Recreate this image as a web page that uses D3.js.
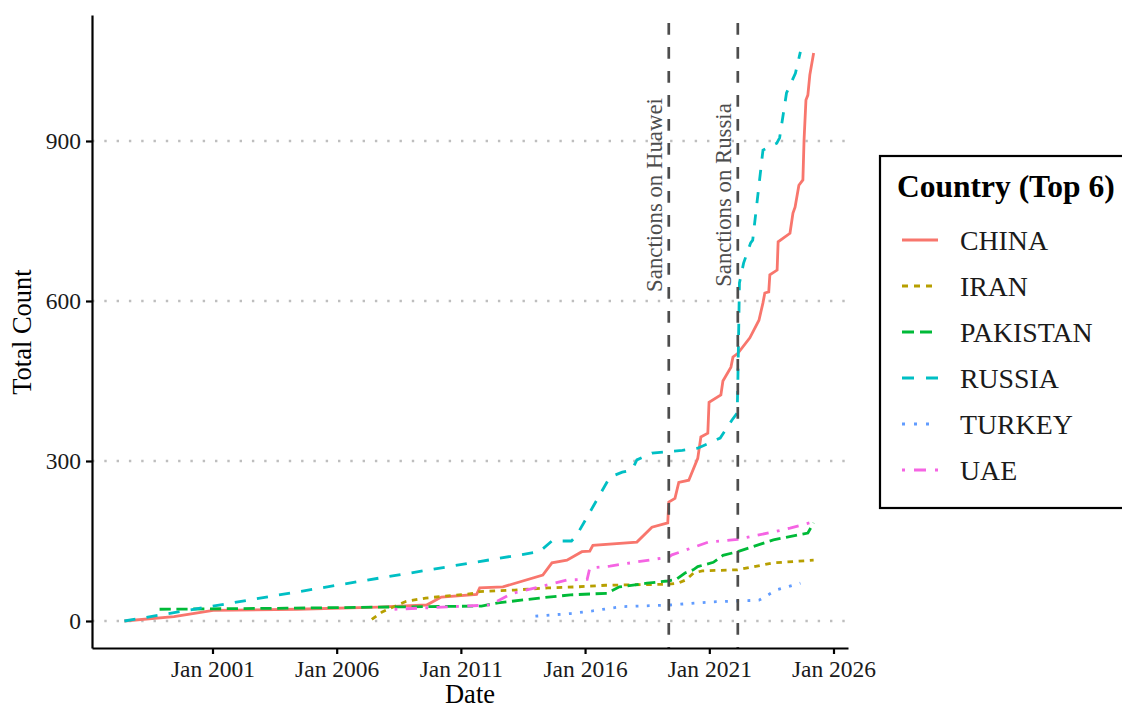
<!DOCTYPE html>
<html>
<head>
<meta charset="utf-8">
<script src="https://cdn.jsdelivr.net/npm/d3@7"></script>
<style>
  body { margin: 0; background: #fff; }
  text { font-family: "Liberation Serif", "Times New Roman", serif; }
</style>
</head>
<body>
<div id="chart"></div>
<script>
// Données
const countries = ["CHINA", "IRAN", "PAKISTAN", "RUSSIA", "TURKEY", "UAE"];
const countryColors = ["#F8766D", "#B79F00", "#00BA38", "#00BFC4", "#619CFF", "#F564E3"];
const countryDashes = ["", "2 2", "4 2", "4 4", "1 3", "1 3 4 3"];

const chinaDates = ["1997-06-15","1999-06-15","2001-01-10","2004-06-01","2007-09-01","2009-08-15","2010-03-20","2011-08-20","2011-10-05","2012-09-10","2014-04-20","2014-09-01","2015-04-10","2015-11-15","2016-03-10","2016-04-25","2018-02-01","2018-09-10","2019-05-01","2019-05-16","2019-08-15","2019-10-10","2020-03-05","2020-07-15","2020-08-30","2020-12-10","2020-12-28","2021-06-20","2021-07-20","2021-11-15","2021-12-15","2022-02-25","2022-08-20","2023-01-01","2023-02-28","2023-03-28","2023-05-25","2023-06-10","2023-09-25","2023-10-10","2024-04-01","2024-05-15","2024-06-15","2024-08-10","2024-10-08","2024-10-25","2024-11-22","2024-12-20","2025-01-18","2025-03-15"];
const chinaCounts = [0,8,20,22,26,30,45,50,62,64,86,109,114,130,131,142,148,176,184,223,230,260,264,305,345,352,410,424,450,476,495,502,531,564,596,615,617,649,658,711,727,765,776,817,827,902,977,986,1024,1065];

const iranDates = ["2007-06-01","2007-11-01","2008-10-20","2009-08-01","2011-08-01","2011-10-01","2013-03-01","2014-07-01","2015-09-01","2016-11-01","2019-05-01","2019-10-01","2020-01-20","2020-05-15","2020-09-20","2022-02-20","2023-08-01","2025-03-15"];
const iranCounts = [3,17,37,43,52,55,58,62,64,67,69,71,77,90,94,96,109,114];

const pakistanDates = ["1998-11-15","2004-01-01","2007-09-01","2011-11-01","2012-07-01","2014-03-01","2015-06-01","2016-11-20","2017-05-20","2018-07-01","2019-05-01","2019-09-01","2020-01-10","2020-05-10","2020-07-15","2021-03-01","2021-07-20","2022-02-20","2023-08-01","2024-12-20","2025-03-15"];
const pakistanCounts = [22,24,26,28,34,43,49,52,64,71,75,78,90,96,102,110,123,130,152,165,184];

const russiaDates = ["1997-06-15","2007-12-01","2014-03-01","2014-09-01","2015-06-15","2015-09-01","2017-01-01","2017-07-01","2017-11-20","2018-02-01","2018-09-10","2019-12-01","2020-07-15","2021-06-10","2021-12-01","2022-02-15","2022-02-25","2022-03-20","2022-05-20","2022-09-01","2022-10-01","2023-03-01","2023-09-20","2023-11-01","2024-02-10","2024-06-20","2024-09-01"];
const russiaCounts = [0,82,130,150,150,161,270,279,283,302,315,320,324,343,377,390,452,634,671,709,714,883,896,906,990,1027,1067];

const turkeyDates = ["2014-01-01","2015-06-01","2016-04-20","2017-01-10","2017-07-01","2019-06-01","2021-03-01","2023-01-01","2023-05-01","2023-10-01","2024-09-01"];
const turkeyCounts = [9,14,19,24,27,30,36,39,48,59,71];

const uaeDates = ["2008-05-01","2012-03-01","2013-02-01","2014-03-01","2015-04-10","2016-02-01","2016-03-10","2017-01-01","2019-05-20","2019-07-01","2020-12-20","2022-02-20","2023-08-01","2024-04-01","2025-03-15"];
const uaeCounts = [22,30,52,64,77,78,99,103,120,124,148,153,167,174,186];

const sanctionDates = ["2019-05-16", "2022-02-24"];
const sanctionLabels = ["Sanctions on Huawei", "Sanctions on Russia"];

const xTickDates = ["2001-01-01","2006-01-01","2011-01-01","2016-01-01","2021-01-01","2026-01-01"];
const yTicks = [0, 300, 600, 900];

// Configuration
const width = 1122, height = 708;
const panel = { left: 92, right: 848, top: 15, bottom: 648 };
const lw = 2.8;

const parse = d3.timeParse("%Y-%m-%d");

const svg = d3.select("#chart").append("svg")
    .attr("width", width)
    .attr("height", height);

// Échelles calées sur les repères du graphique
const x = d3.scaleTime()
    .domain([parse("2001-01-01"), parse("2026-01-01")])
    .range([212.5, 833.5]);
x.domain([x.invert(panel.left), x.invert(panel.right)]).range([panel.left, panel.right]);

const y = d3.scaleLinear().domain([0, 900]).range([621, 141]);
y.domain([y.invert(panel.bottom), y.invert(panel.top)]).range([panel.bottom, panel.top]);

// Grille horizontale pointillée
svg.append("g").selectAll("line")
    .data(yTicks)
    .enter().append("line")
    .attr("x1", panel.left).attr("x2", panel.right)
    .attr("y1", d => y(d)).attr("y2", d => y(d))
    .attr("stroke", "#BEBEBE")
    .attr("stroke-width", 2.4)
    .attr("stroke-dasharray", "2.4 9.9");

// Séries
const allDates = [chinaDates, iranDates, pakistanDates, russiaDates, turkeyDates, uaeDates];
const allCounts = [chinaCounts, iranCounts, pakistanCounts, russiaCounts, turkeyCounts, uaeCounts];
const series = countries.map((c, i) => ({
    name: c,
    color: countryColors[i],
    dash: countryDashes[i],
    values: allDates[i].map((d, j) => ({ date: parse(d), count: allCounts[i][j] }))
}));

const line = d3.line()
    .x(d => x(d.date))
    .y(d => y(d.count));

const scaleDash = (s, k) => s ? s.split(" ").map(v => +v * k).join(" ") : null;

svg.append("g").selectAll("path")
    .data(series)
    .enter().append("path")
    .attr("d", d => line(d.values))
    .attr("fill", "none")
    .attr("stroke", d => d.color)
    .attr("stroke-width", lw)
    .attr("stroke-dasharray", d => scaleDash(d.dash, lw));

// Lignes des sanctions
sanctionDates.forEach((d, i) => {
    const xv = x(parse(d));
    svg.append("line")
        .attr("x1", xv).attr("x2", xv)
        .attr("y1", panel.top).attr("y2", panel.bottom)
        .attr("stroke", "#4D4D4D")
        .attr("stroke-width", 2.7)
        .attr("stroke-dasharray", "11.7 12.3")
        .attr("stroke-dashoffset", -8);
    svg.append("text")
        .attr("transform", `translate(${xv - 7},195) rotate(-90)`)
        .attr("text-anchor", "middle")
        .style("font-size", "22.8px")
        .attr("fill", "#4D4D4D")
        .text(sanctionLabels[i]);
});

// Axes
const xAxis = d3.axisBottom(x)
    .tickValues(xTickDates.map(parse))
    .tickFormat(d3.timeFormat("Jan %Y"))
    .tickSize(6).tickSizeOuter(0).tickPadding(6);
const yAxis = d3.axisLeft(y)
    .tickValues(yTicks)
    .tickSize(6).tickSizeOuter(0).tickPadding(5);

const gx = svg.append("g").attr("transform", `translate(0,${panel.bottom})`).call(xAxis);
const gy = svg.append("g").attr("transform", `translate(${panel.left},0)`).call(yAxis);

[gx, gy].forEach(g => {
    g.select(".domain").attr("stroke", "#000").attr("stroke-width", 2.2);
    g.selectAll(".tick line").attr("stroke", "#000").attr("stroke-width", 2.2);
    g.selectAll(".tick text")
        .attr("fill", "#1a1a1a")
        .style("font-size", "23.5px")
        .style("font-family", "'Liberation Serif', serif");
});

// Titres des axes
svg.append("text")
    .attr("x", 470).attr("y", 703)
    .attr("text-anchor", "middle")
    .style("font-size", "26.5px")
    .text("Date");

svg.append("text")
    .attr("transform", "translate(31,332) rotate(-90)")
    .attr("text-anchor", "middle")
    .style("font-size", "26.5px")
    .text("Total Count");

// Légende
const legend = svg.append("g");
legend.append("rect")
    .attr("x", 880).attr("y", 156)
    .attr("width", 300).attr("height", 352)
    .attr("fill", "#fff")
    .attr("stroke", "#000")
    .attr("stroke-width", 2.2);

legend.append("text")
    .attr("x", 897).attr("y", 197)
    .style("font-size", "31.5px")
    .style("font-weight", "bold")
    .text("Country (Top 6)");

series.forEach((s, i) => {
    const ry = 240 + i * 46;
    legend.append("line")
        .attr("x1", 902).attr("x2", 938)
        .attr("y1", ry).attr("y2", ry)
        .attr("stroke", s.color)
        .attr("stroke-width", 3)
        .attr("stroke-dasharray", scaleDash(s.dash, 3));
    legend.append("text")
        .attr("x", 960).attr("y", ry)
        .attr("dy", "0.36em")
        .style("font-size", "27.8px")
        .attr("fill", "#1a1a1a")
        .text(s.name);
});
</script>
</body>
</html>
